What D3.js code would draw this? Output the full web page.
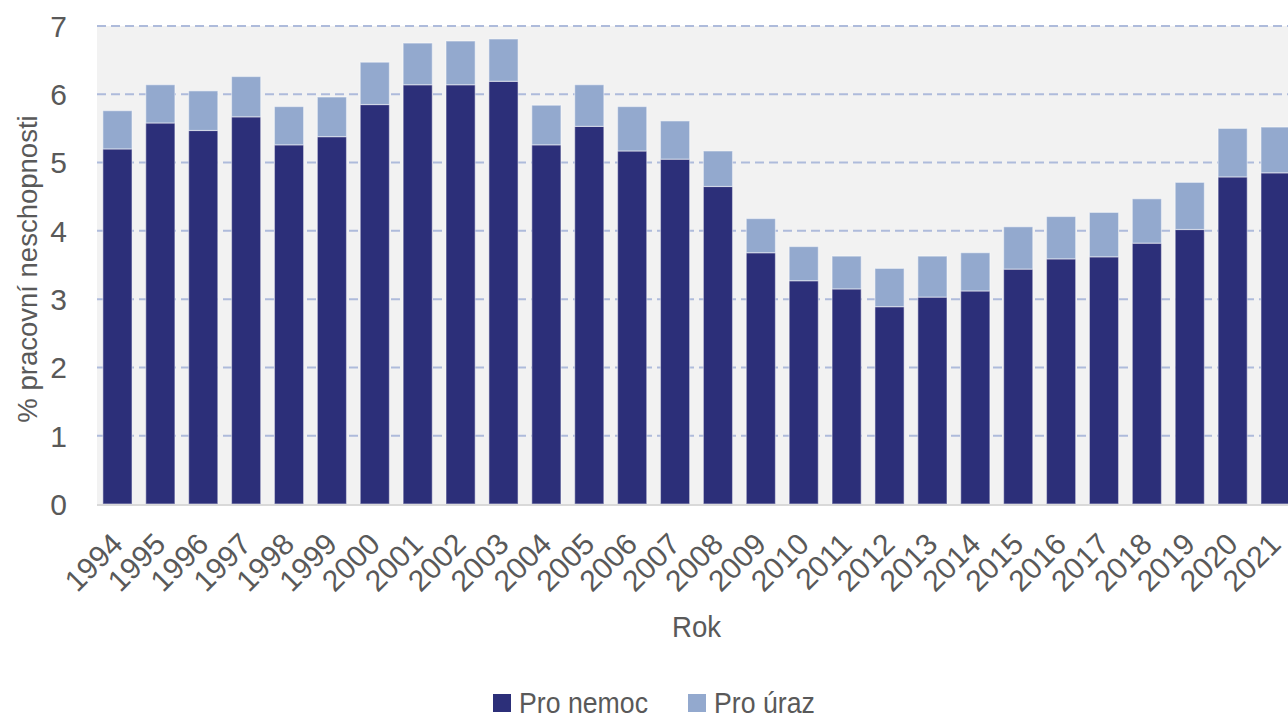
<!DOCTYPE html>
<html>
<head>
<meta charset="utf-8">
<script src="https://cdn.jsdelivr.net/npm/d3@7"></script>
<style>
	body { margin: 0; background: #fff; }
	text { font-family: "Liberation Sans", Arial, sans-serif; fill: #595959; }
</style>
</head>
<body>
<div id="chart"></div>
<script>
// years on the x axis
var years = ["1994","1995","1996","1997","1998","1999","2000","2001","2002","2003","2004","2005","2006","2007",
	"2008","2009","2010","2011","2012","2013","2014","2015","2016","2017","2018","2019","2020","2021"];
// % pracovni neschopnosti pro nemoc
var nemoc = [5.20,5.58,5.47,5.67,5.26,5.38,5.85,6.14,6.14,6.19,5.26,5.53,5.17,5.05,
	4.65,3.68,3.27,3.15,2.89,3.03,3.12,3.44,3.59,3.62,3.82,4.02,4.79,4.85];
// % pracovni neschopnosti pro uraz
var uraz = [0.56,0.56,0.58,0.59,0.56,0.58,0.62,0.61,0.64,0.62,0.58,0.61,0.65,0.56,
	0.52,0.50,0.50,0.48,0.56,0.60,0.56,0.62,0.62,0.65,0.65,0.69,0.71,0.67];
var yTicks = [0,1,2,3,4,5,6,7];
var seriesNames = ["Pro nemoc","Pro úraz"];
var colors = ["#2c2f79","#93a9ce"];

var width = 1288, height = 719;
var svg = d3.select("#chart").append("svg")
	.attr("width", width)
	.attr("height", height);

var plotLeft = 96, plotRight = 1297, plotTop = 26, plotBottom = 504;
var narrow = 0.92; // the original font is a bit narrower

var xScale = d3.scaleBand()
	.domain(years)
	.range([plotLeft, plotRight])
	.paddingInner(0.32)
	.paddingOuter(0.16);
var yScale = d3.scaleLinear()
	.domain([0, 7])
	.range([plotBottom, plotTop]);

// plot background
svg.append("rect")
	.attr("x", plotLeft + 1)
	.attr("y", plotTop)
	.attr("width", width - plotLeft)
	.attr("height", plotBottom - plotTop)
	.attr("fill", "#f2f2f2");

// grid
svg.append("g").selectAll("line")
	.data(yTicks.filter(function(d){ return d > 0; }))
	.enter().append("line")
	.attr("x1", plotLeft + 1)
	.attr("x2", width)
	.attr("y1", function(d){ return yScale(d); })
	.attr("y2", function(d){ return yScale(d); })
	.attr("stroke", "#aebbdb")
	.attr("stroke-width", 2)
	.attr("stroke-dasharray", "9,5");

// stacked bars
var rows = years.map(function(y, i){ return {year: y, nemoc: nemoc[i], uraz: uraz[i]}; });
var stack = d3.stack().keys(["nemoc","uraz"])(rows);

svg.append("g").selectAll("g")
	.data(stack)
	.enter().append("g")
	.attr("fill", function(d, i){ return colors[i]; })
	.selectAll("rect")
	.data(function(d){ return d; })
	.enter().append("rect")
	.attr("x", function(d){ return xScale(d.data.year); })
	.attr("y", function(d){ return yScale(d[1]); })
	.attr("width", xScale.bandwidth())
	.attr("height", function(d){ return yScale(d[0]) - yScale(d[1]); })
	.attr("stroke", "rgba(255,255,255,0.45)")
	.attr("stroke-width", 1.2);

// bottom axis line
svg.append("line")
	.attr("x1", plotLeft + 1)
	.attr("x2", width)
	.attr("y1", plotBottom + 1)
	.attr("y2", plotBottom + 1)
	.attr("stroke", "#d9d9d9")
	.attr("stroke-width", 2);

// y tick labels
svg.append("g").selectAll("text")
	.data(yTicks)
	.enter().append("text")
	.attr("x", 67)
	.attr("y", function(d){ return yScale(d); })
	.attr("dy", "0.36em")
	.attr("text-anchor", "end")
	.style("font-size", "30px")
	.text(function(d){ return d; });

// x tick labels
svg.append("g").selectAll("text")
	.data(years)
	.enter().append("text")
	.attr("text-anchor", "end")
	.attr("transform", function(d){
		var cx = xScale(d) + xScale.bandwidth() / 2 + 7;
		return "translate(" + cx + "," + 546 + ") rotate(-45)";
	})
	.style("font-size", "30px")
	.text(function(d){ return d; });

// axis titles
svg.append("text")
	.attr("transform", "translate(" + ((plotLeft + plotRight) / 2) + ",637) scale(" + narrow + ",1)")
	.attr("text-anchor", "middle")
	.style("font-size", "30px")
	.text("Rok");

svg.append("text")
	.attr("transform", "translate(37," + ((plotTop + plotBottom) / 2 + 4) + ") rotate(-90)")
	.attr("text-anchor", "middle")
	.style("font-size", "27.5px")
	.text("% pracovní neschopnosti");

// legend
var legendX = [493, 688];
var legend = svg.append("g").selectAll("g")
	.data(seriesNames)
	.enter().append("g")
	.attr("transform", function(d, i){ return "translate(" + legendX[i] + ",694)"; });
legend.append("rect")
	.attr("width", 18)
	.attr("height", 18)
	.attr("fill", function(d, i){ return colors[i]; });
legend.append("text")
	.attr("transform", "translate(26,19) scale(" + narrow + ",1)")
	.style("font-size", "29px")
	.text(function(d){ return d; });
</script>
</body>
</html>
